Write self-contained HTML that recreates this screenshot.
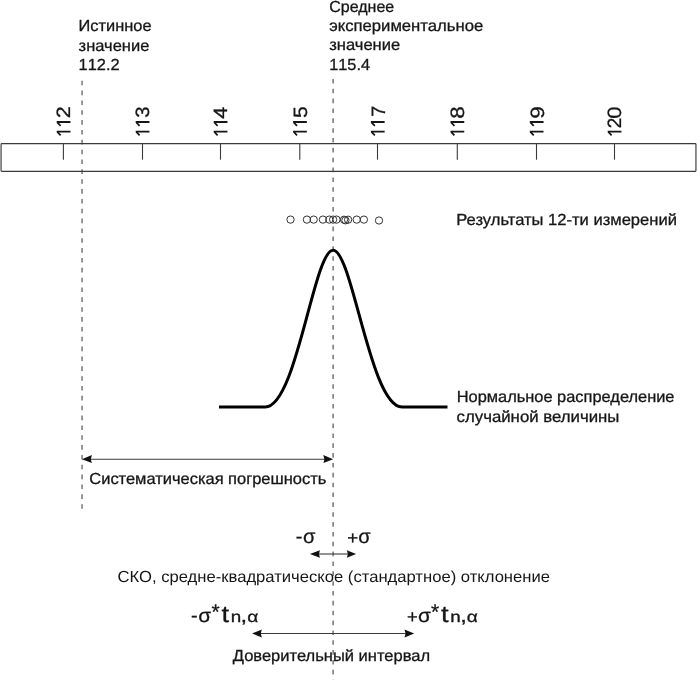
<!DOCTYPE html>
<html lang="ru">
<head>
<meta charset="utf-8">
<title>Diagram</title>
<style>
html,body{margin:0;padding:0;background:#fff;}
body{width:697px;height:680px;overflow:hidden;}
svg{display:block;filter:grayscale(1);font-family:"Liberation Sans",sans-serif;text-rendering:geometricPrecision;}
text{fill:#161616;stroke:#161616;stroke-width:0.3;}
.t15{font-size:16px;}
.ar15{font-size:16px;stroke:none;}
.dash{stroke:#4c4c4c;stroke-width:1.15;stroke-dasharray:4.6 5.248;fill:none;}
.ln{stroke:#3a3a3a;stroke-width:1.1;fill:none;}
.ar{fill:#111;stroke:none;}
</style>
</head>
<body>
<svg width="697" height="680" viewBox="0 0 697 680">
<rect x="0" y="0" width="697" height="680" fill="#ffffff"/>
<g>

<!-- dashed verticals -->
<line class="dash" x1="82.05" y1="80.7" x2="82.05" y2="509"/>
<line class="dash" x1="333.1" y1="78.9" x2="333.1" y2="680"/>

<!-- ruler -->
<rect x="1.05" y="143.6" width="694.9" height="27.7" rx="0.8" fill="none" stroke="#3a3a3a" stroke-width="1.15"/>
<g class="ln">
<line x1="63.4" y1="143.6" x2="63.4" y2="159.7"/>
<line x1="142.5" y1="143.6" x2="142.5" y2="159.7"/>
<line x1="220.5" y1="143.6" x2="220.5" y2="159.7"/>
<line x1="299.8" y1="143.6" x2="299.8" y2="159.7"/>
<line x1="377.5" y1="143.6" x2="377.5" y2="159.7"/>
<line x1="457.3" y1="143.6" x2="457.3" y2="159.7"/>
<line x1="536.5" y1="143.6" x2="536.5" y2="159.7"/>
<line x1="614.5" y1="143.6" x2="614.5" y2="159.7"/>
</g>
<g font-size="19.3" fill="#161616">
<g transform="translate(70.45,0) rotate(-90)"><path d="M-130.70,-13.75 L-130.70,0.00 L-132.50,0.00 L-132.50,-11.40 L-134.85,-9.20 L-136.00,-10.45 L-132.50,-13.75 Z"/><path d="M-121.10,-13.75 L-121.10,0.00 L-122.90,0.00 L-122.90,-11.40 L-125.25,-9.20 L-126.40,-10.45 L-122.90,-13.75 Z"/><text transform="translate(-118.23,0) scale(1.120,1)">2</text></g>
<g transform="translate(149.45,0) rotate(-90)"><path d="M-130.70,-13.75 L-130.70,0.00 L-132.50,0.00 L-132.50,-11.40 L-134.85,-9.20 L-136.00,-10.45 L-132.50,-13.75 Z"/><path d="M-121.10,-13.75 L-121.10,0.00 L-122.90,0.00 L-122.90,-11.40 L-125.25,-9.20 L-126.40,-10.45 L-122.90,-13.75 Z"/><text transform="translate(-117.68,0) scale(1.050,1)">3</text></g>
<g transform="translate(227.45,0) rotate(-90)"><path d="M-130.70,-13.75 L-130.70,0.00 L-132.50,0.00 L-132.50,-11.40 L-134.85,-9.20 L-136.00,-10.45 L-132.50,-13.75 Z"/><path d="M-121.10,-13.75 L-121.10,0.00 L-122.90,0.00 L-122.90,-11.40 L-125.25,-9.20 L-126.40,-10.45 L-122.90,-13.75 Z"/><text transform="translate(-118.69,0) scale(1.120,1)">4</text></g>
<g transform="translate(306.85,0) rotate(-90)"><path d="M-130.70,-13.75 L-130.70,0.00 L-132.50,0.00 L-132.50,-11.40 L-134.85,-9.20 L-136.00,-10.45 L-132.50,-13.75 Z"/><path d="M-121.10,-13.75 L-121.10,0.00 L-122.90,0.00 L-122.90,-11.40 L-125.25,-9.20 L-126.40,-10.45 L-122.90,-13.75 Z"/><text transform="translate(-118.12,0) scale(1.090,1)">5</text></g>
<g transform="translate(384.65,0) rotate(-90)"><path d="M-130.70,-13.75 L-130.70,0.00 L-132.50,0.00 L-132.50,-11.40 L-134.85,-9.20 L-136.00,-10.45 L-132.50,-13.75 Z"/><path d="M-121.10,-13.75 L-121.10,0.00 L-122.90,0.00 L-122.90,-11.40 L-125.25,-9.20 L-126.40,-10.45 L-122.90,-13.75 Z"/><text transform="translate(-116.86,0) scale(1.030,1)">7</text></g>
<g transform="translate(464.25,0) rotate(-90)"><path d="M-130.70,-13.75 L-130.70,0.00 L-132.50,0.00 L-132.50,-11.40 L-134.85,-9.20 L-136.00,-10.45 L-132.50,-13.75 Z"/><path d="M-121.10,-13.75 L-121.10,0.00 L-122.90,0.00 L-122.90,-11.40 L-125.25,-9.20 L-126.40,-10.45 L-122.90,-13.75 Z"/><text transform="translate(-118.78,0) scale(1.160,1)">8</text></g>
<g transform="translate(543.55,0) rotate(-90)"><path d="M-130.70,-13.75 L-130.70,0.00 L-132.50,0.00 L-132.50,-11.40 L-134.85,-9.20 L-136.00,-10.45 L-132.50,-13.75 Z"/><path d="M-121.10,-13.75 L-121.10,0.00 L-122.90,0.00 L-122.90,-11.40 L-125.25,-9.20 L-126.40,-10.45 L-122.90,-13.75 Z"/><text transform="translate(-118.69,0) scale(1.160,1)">9</text></g>
<g transform="translate(621.45,0) rotate(-90)"><path d="M-130.70,-13.75 L-130.70,0.00 L-132.50,0.00 L-132.50,-11.40 L-134.85,-9.20 L-136.00,-10.45 L-132.50,-13.75 Z"/><text transform="translate(-128.27,0) scale(0.980,1)">2</text><text transform="translate(-118.68,0) scale(1.140,1)">0</text></g>
</g>

<!-- top labels -->
<g class="t15">
<text id="a1" x="78.6" y="31.4" textLength="72.9" lengthAdjust="spacingAndGlyphs">Истинное</text>
<text id="a2" x="78.6" y="50.8" textLength="70.7" lengthAdjust="spacingAndGlyphs">значение</text>
<text id="a3" style="font-kerning:none" x="78.6" y="70.0" textLength="41" lengthAdjust="spacingAndGlyphs">112.2</text>
<text id="b1" x="329.2" y="11.6" textLength="65" lengthAdjust="spacingAndGlyphs">Среднее</text>
<text id="b2" x="329.2" y="31.0" textLength="154" lengthAdjust="spacingAndGlyphs">экспериментальное</text>
<text id="b3" x="329.2" y="50.4" textLength="71" lengthAdjust="spacingAndGlyphs">значение</text>
<text id="b4" style="font-kerning:none" x="329.2" y="69.7" textLength="40.8" lengthAdjust="spacingAndGlyphs">115.4</text>
</g>

<!-- measurement circles -->
<rect x="331" y="213.5" width="4.4" height="12" fill="#fff"/>
<g fill="none" stroke="#333" stroke-width="1">
<circle cx="290.5" cy="219.6" r="3.65"/>
<circle cx="306.9" cy="219.6" r="3.65"/>
<circle cx="313.7" cy="219.6" r="3.65"/>
<circle cx="322.9" cy="219.6" r="3.65"/>
<circle cx="329.3" cy="219.6" r="3.65"/>
<circle cx="333.1" cy="219.6" r="3.65"/>
<circle cx="336.5" cy="219.6" r="3.65"/>
<circle cx="344.0" cy="219.7" r="3.65"/>
<circle cx="345.4" cy="220.3" r="3.65"/>
<circle cx="348.1" cy="219.7" r="3.65"/>
<circle cx="356.7" cy="219.6" r="3.65"/>
<circle cx="363.9" cy="219.6" r="3.65"/>
<circle cx="379.0" cy="220.5" r="3.65"/>
</g>

<!-- bell curve -->
<path d="M219,407 L265.26,407 C296.54,407 313.8,250.3 333.1,250.3 C352.4,250.3 370.3,407 402,407 L447.5,407" fill="none" stroke="#000" stroke-width="3.0" stroke-linejoin="round"/>

<g class="t15">
<text id="c1" x="456.3" y="224.6" textLength="220.6" lengthAdjust="spacingAndGlyphs">Результаты 12-ти измерений</text>
<text id="c2" x="456.7" y="402.4" textLength="217.8" lengthAdjust="spacingAndGlyphs">Нормальное распределение</text>
<text id="c3" x="456.6" y="421.8" textLength="162.8" lengthAdjust="spacingAndGlyphs">случайной величины</text>
<text id="d1" x="89.3" y="483.8" textLength="237" lengthAdjust="spacingAndGlyphs">Систематическая погрешность</text>
</g>

<!-- systematic error arrow -->
<line class="ln" x1="90" y1="459.25" x2="325" y2="459.25"/>
<path class="ar" d="M81.9,459.15 L91.9,455 L90.8,459.15 L91.9,462.95 Z"/>
<path class="ar" d="M333.1,459.2 L323.3,455.1 L324.4,459.2 L323.5,463 Z"/>

<!-- sigma -->
<g id="sg">
<text transform="translate(295.82,543.40) scale(1.000,1.000)" font-size="20.0">-</text>
<text transform="translate(303.11,543.41) scale(1.020,1.000)" font-size="19.7">σ</text>
<text transform="translate(347.19,543.62) scale(1.013,1.000)" font-size="18.4">+</text>
<text transform="translate(358.26,543.41) scale(1.015,1.000)" font-size="19.7">σ</text>
</g>
<line class="ln" x1="318.5" y1="554" x2="348.3" y2="554"/>
<path class="ar" d="M309.9,553.9 L319.9,550.2 L319,553.9 L319.9,557.7 Z"/>
<path class="ar" d="M356.1,554 L346.8,550.2 L347.9,554 L346.8,557.7 Z"/>

<text id="e1" x="117.5" y="581.8" class="ar15" textLength="432.5" lengthAdjust="spacingAndGlyphs">СКО, средне-квадратическое (стандартное) отклонение</text>

<!-- confidence interval -->
<g id="ci">
<text transform="translate(191.10,622.20) scale(1.000,1.000)" font-size="20.0">-</text>
<text transform="translate(198.32,622.21) scale(1.086,1.000)" font-size="19.2">σ</text>
<text transform="translate(211.46,619.10) scale(0.996,1.000)" font-size="21.1">*</text>
<text transform="translate(221.39,622.22) scale(1.17,1)" font-size="23.4" stroke="none">t</text>
<text transform="translate(230.65,622.20) scale(1.207,1.000)" font-size="15.6" stroke-width="0.12">n</text>
<text transform="translate(240.6,622.3) scale(1.25,1)" font-size="19" stroke="none">,</text>
<text transform="translate(247.20,622.25) scale(1.226,1.000)" font-size="15.6" stroke-width="0.12">α</text>
<text transform="translate(407.07,622.84) scale(0.983,1.000)" font-size="18.7">+</text>
<text transform="translate(417.92,622.21) scale(1.086,1.000)" font-size="19.2">σ</text>
<text transform="translate(431.06,619.10) scale(0.996,1.000)" font-size="21.1">*</text>
<text transform="translate(440.99,622.22) scale(1.17,1)" font-size="23.4" stroke="none">t</text>
<text transform="translate(450.25,622.20) scale(1.207,1.000)" font-size="15.6" stroke-width="0.12">n</text>
<text transform="translate(460.2,622.3) scale(1.25,1)" font-size="19" stroke="none">,</text>
<text transform="translate(466.80,622.25) scale(1.226,1.000)" font-size="15.6" stroke-width="0.12">α</text>
</g>
<line class="ln" x1="260" y1="633.5" x2="406" y2="633.5"/>
<path class="ar" d="M252.1,633.5 L261.8,629.4 L260.8,633.5 L261.8,637.5 Z"/>
<path class="ar" d="M414.2,633.5 L404.5,629.4 L405.6,633.5 L404.5,637.4 Z"/>

<text id="h1" x="232.8" y="660.7" class="t15" stroke-width="0.15" textLength="197.3" lengthAdjust="spacingAndGlyphs">Доверительный интервал</text>
</g>
</svg>
</body>
</html>
